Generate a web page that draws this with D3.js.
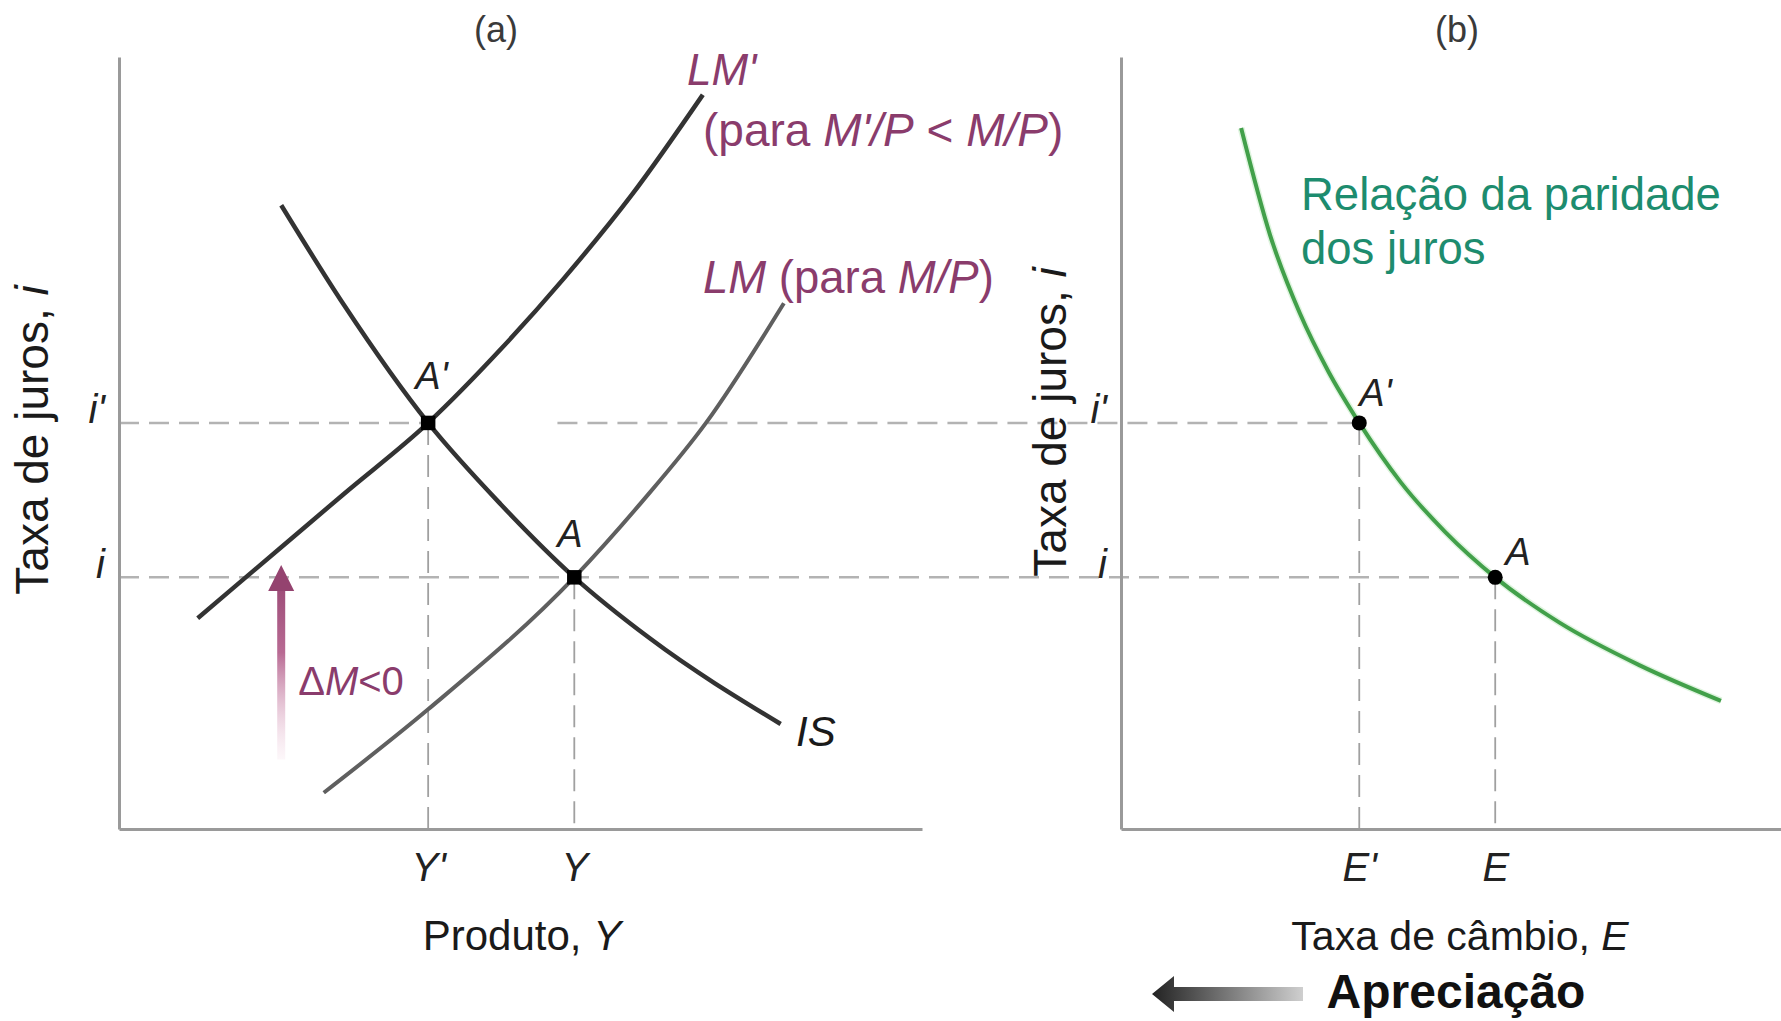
<!DOCTYPE html>
<html><head><meta charset="utf-8">
<script src="https://cdn.jsdelivr.net/npm/d3@7"></script>
<style>
html,body{margin:0;padding:0;background:#fff;}
svg{display:block;font-family:"Liberation Sans",Arial,Helvetica,sans-serif;}
</style>
</head><body>
<svg id="chart" width="1781" height="1021"></svg>
<script>
// ---------- data (abstract units 0..10) ----------
const panelTitles = ["(a)", "(b)"];
const interestTicks = [5.26, 3.26];          // i', i
const interestTickLabels = ["i'", "i"];
const outputTicks = [3.85, 5.67];            // Y', Y
const outputTickLabels = ["Y'", "Y"];
const exchangeTicks = [3.61, 5.67];          // E', E
const exchangeTickLabels = ["E'", "E"];
const pointLabels = ["A'", "A"];

const lmPrimeX = [0.98, 2.02, 2.80, 3.85, 4.75, 5.53, 6.39, 7.27];
const lmPrimeY = [2.73, 3.65, 4.34, 5.26, 6.21, 7.12, 8.22, 9.51];
const isX = [2.02, 2.80, 3.85, 4.75, 5.67, 6.61, 8.24];
const isY = [8.08, 6.79, 5.26, 4.21, 3.26, 2.47, 1.36];
const lmX = [2.55, 3.85, 5.67, 6.53, 7.31, 8.28];
const lmY = [0.47, 1.55, 3.26, 4.26, 5.26, 6.81];
const uipX = [1.82, 2.26, 2.71, 3.14, 3.61, 4.24, 4.91, 5.67, 6.65, 7.86, 9.09];
const uipY = [9.08, 7.69, 6.68, 5.93, 5.26, 4.49, 3.85, 3.26, 2.67, 2.12, 1.66];
const iPrimeGuideResume = 5.46;   // where the i' guide resumes right of A'
const deltaMArrow = [0.90, 3.42];  // ΔM<0 arrow from/to (interest units)
const deltaMArrowX = 2.02;

// ---------- setup ----------
const svg = d3.select("#chart");
const FONT = '"Liberation Sans",Arial,Helvetica,sans-serif';
const MAUVE = "#8a3c6c", TEAL = "#1d8c6e", GREEN = "#42a04a";

const xL = d3.scaleLinear().domain([0, 10]).range([119, 922]);
const xR = d3.scaleLinear().domain([0, 10]).range([1121, 1781]);
const y = d3.scaleLinear().domain([0, 10]).range([829, 57]);

const defs = svg.append("defs");
const gA = defs.append("linearGradient").attr("id", "dm").attr("gradientUnits", "userSpaceOnUse")
  .attr("x1", 0).attr("x2", 0).attr("y1", y(deltaMArrow[0])).attr("y2", y(deltaMArrow[1]));
gA.append("stop").attr("offset", 0).attr("stop-color", "#f3d6e4").attr("stop-opacity", 0.2);
gA.append("stop").attr("offset", 0.55).attr("stop-color", "#b86a93");
gA.append("stop").attr("offset", 1).attr("stop-color", "#94436f");
const gB = defs.append("linearGradient").attr("id", "ap").attr("gradientUnits", "userSpaceOnUse")
  .attr("x1", 1152).attr("x2", 1303).attr("y1", 0).attr("y2", 0);
gB.append("stop").attr("offset", 0).attr("stop-color", "#222");
gB.append("stop").attr("offset", 1).attr("stop-color", "#cfcfcf");

// ---------- guides (dashed) ----------
const guides = svg.append("g").attr("fill", "none");
const hGuide = (x1, x2, yy) => guides.append("line")
  .attr("x1", x1).attr("x2", x2).attr("y1", y(yy)).attr("y2", y(yy))
  .attr("stroke", "#b3b3b3").attr("stroke-width", 2.5).attr("stroke-dasharray", "20,10");
const vGuide = (xx, y1) => guides.append("line")
  .attr("x1", xx).attr("x2", xx).attr("y1", y(y1)).attr("y2", y(0))
  .attr("stroke", "#a0a0a0").attr("stroke-width", 1.8).attr("stroke-dasharray", "22,10");

hGuide(xL(0), xL(outputTicks[0]), interestTicks[0]);
hGuide(xL(iPrimeGuideResume), xR(exchangeTicks[0]), interestTicks[0]);
hGuide(xL(0), xR(exchangeTicks[1]), interestTicks[1]);
vGuide(xL(outputTicks[0]), interestTicks[0]);
vGuide(xL(outputTicks[1]), interestTicks[1]);
vGuide(xR(exchangeTicks[0]), interestTicks[0]);
vGuide(xR(exchangeTicks[1]), interestTicks[1]);

// ---------- axes ----------
function styleAxis(g) {
  g.select(".domain").attr("stroke", "#9a9a9a").attr("stroke-width", 3);
  g.selectAll("text").attr("font-family", FONT).attr("font-style", "italic")
    .attr("font-size", 40).attr("fill", "#222");
}
svg.append("g").attr("transform", `translate(0,${y(0)})`)
  .call(d3.axisBottom(xL).tickValues(outputTicks).tickSize(0).tickSizeOuter(0).tickPadding(52)
    .tickFormat((d, i) => outputTickLabels[i]))
  .call(styleAxis);
svg.append("g").attr("transform", `translate(${xL(0)},0)`)
  .call(d3.axisLeft(y).tickValues(interestTicks).tickSize(0).tickSizeOuter(0).tickPadding(14)
    .tickFormat((d, i) => interestTickLabels[i]))
  .call(styleAxis);
svg.append("g").attr("transform", `translate(0,${y(0)})`)
  .call(d3.axisBottom(xR).tickValues(exchangeTicks).tickSize(0).tickSizeOuter(0).tickPadding(52)
    .tickFormat((d, i) => exchangeTickLabels[i]))
  .call(styleAxis);
svg.append("g").attr("transform", `translate(${xR(0)},0)`)
  .call(d3.axisLeft(y).tickValues(interestTicks).tickSize(0).tickSizeOuter(0).tickPadding(14)
    .tickFormat((d, i) => interestTickLabels[i]))
  .call(styleAxis);
svg.selectAll(".tick text").attr("dy", null);

// ---------- curves ----------
const zip = (a, b) => a.map((v, i) => [v, b[i]]);
const lineL = d3.line().x(d => xL(d[0])).y(d => y(d[1])).curve(d3.curveMonotoneX);
const lineR = d3.line().x(d => xR(d[0])).y(d => y(d[1])).curve(d3.curveMonotoneX);

svg.append("path").attr("d", lineR(zip(uipX, uipY))).attr("fill", "none")
  .attr("stroke", "#c9ecc9").attr("stroke-width", 7).attr("opacity", 0.6);
svg.append("path").attr("d", lineR(zip(uipX, uipY))).attr("fill", "none")
  .attr("stroke", GREEN).attr("stroke-width", 4);
svg.append("path").attr("d", lineL(zip(lmX, lmY))).attr("fill", "none")
  .attr("stroke", "#5f5f5f").attr("stroke-width", 4);
svg.append("path").attr("d", lineL(zip(lmPrimeX, lmPrimeY))).attr("fill", "none")
  .attr("stroke", "#333").attr("stroke-width", 4.5);
svg.append("path").attr("d", lineL(zip(isX, isY))).attr("fill", "none")
  .attr("stroke", "#333").attr("stroke-width", 4.5);

// ---------- points ----------
const ptsL = outputTicks.map((v, i) => ({x: xL(v), y: y(interestTicks[i]), lab: pointLabels[i]}));
const ptsR = exchangeTicks.map((v, i) => ({x: xR(v), y: y(interestTicks[i]), lab: pointLabels[i]}));
svg.selectAll(".ptL").data(ptsL).join("path").attr("class", "ptL")
  .attr("d", d3.symbol(d3.symbolSquare, 210)).attr("transform", d => `translate(${d.x},${d.y})`)
  .attr("fill", "#000");
svg.selectAll(".ptR").data(ptsR).join("circle").attr("class", "ptR")
  .attr("cx", d => d.x).attr("cy", d => d.y).attr("r", 7.5).attr("fill", "#000");

const ptText = (x, yy, t) => svg.append("text").attr("x", x).attr("y", yy).text(t)
  .attr("font-family", FONT).attr("font-style", "italic").attr("font-size", 38).attr("fill", "#222");
ptText(ptsL[0].x - 13, ptsL[0].y - 34, pointLabels[0]);
ptText(ptsL[1].x - 17, ptsL[1].y - 30, pointLabels[1]);
ptText(ptsR[0].x + 0, ptsR[0].y - 17, pointLabels[0]);
ptText(ptsR[1].x + 10, ptsR[1].y - 12, pointLabels[1]);

// ---------- ΔM arrow ----------
const ax = xL(deltaMArrowX);
svg.append("rect").attr("x", ax - 4).attr("width", 8)
  .attr("y", y(deltaMArrow[1]) + 20).attr("height", y(deltaMArrow[0]) - y(deltaMArrow[1]) - 20)
  .attr("fill", "url(#dm)");
svg.append("path").attr("d", d3.line()([[ax - 13, y(deltaMArrow[1]) + 26], [ax, y(deltaMArrow[1])], [ax + 13, y(deltaMArrow[1]) + 26]]) + "Z")
  .attr("fill", "#94436f");
svg.append("text").attr("x", ax + 17).attr("y", 695).attr("font-family", FONT)
  .attr("font-size", 40).attr("fill", MAUVE)
  .call(t => { t.append("tspan").text("Δ"); t.append("tspan").attr("font-style", "italic").text("M");
               t.append("tspan").text("<0"); });

// ---------- curve labels ----------
const lab = (x, yy, parts, color, size) => {
  const t = svg.append("text").attr("x", x).attr("y", yy).attr("font-family", FONT)
    .attr("font-size", size).attr("fill", color);
  parts.forEach(p => t.append("tspan").attr("font-style", p[1] ? "italic" : "normal").text(p[0]));
  return t;
};
lab(687, 85, [["LM'", 1]], MAUVE, 44);
lab(703, 146, [["(para ", 0], ["M'/P", 1], [" < ", 0], ["M/P", 1], [")", 0]], MAUVE, 46);
lab(703, 293, [["LM", 1], [" (para ", 0], ["M/P", 1], [")", 0]], MAUVE, 45.5);
lab(796, 746, [["IS", 1]], "#1a1a1a", 42);
lab(1301, 210, [["Relação da paridade", 0]], TEAL, 45.5);
lab(1301, 264, [["dos juros", 0]], TEAL, 45.5);

// ---------- titles ----------
svg.selectAll(".ptitle").data(panelTitles).join("text").attr("class", "ptitle")
  .attr("x", (d, i) => i === 0 ? 496 : 1457).attr("y", 42).attr("text-anchor", "middle")
  .attr("font-family", FONT).attr("font-size", 36).attr("fill", "#3a3a3a").text(d => d);

lab(522, 950, [["Produto, ", 0], ["Y", 1]], "#1a1a1a", 42).attr("text-anchor", "middle");
lab(1460, 950, [["Taxa de câmbio, ", 0], ["E", 1]], "#1a1a1a", 41).attr("text-anchor", "middle");
lab(0, 0, [["Taxa de juros, ", 0], ["i", 1]], "#1a1a1a", 46)
  .attr("text-anchor", "middle").attr("transform", "translate(48,440) rotate(-90)");
lab(0, 0, [["Taxa de juros, ", 0], ["i", 1]], "#1a1a1a", 46)
  .attr("text-anchor", "middle").attr("transform", "translate(1066,422) rotate(-90)");

// ---------- Apreciação ----------
svg.append("path").attr("d", "M1152,994 L1174,976 L1174,987 L1303,987 L1303,1001 L1174,1001 L1174,1012 Z")
  .attr("fill", "url(#ap)");
svg.append("text").attr("x", 1456).attr("y", 1008).attr("text-anchor", "middle")
  .attr("font-family", FONT).attr("font-weight", "bold").attr("font-size", 48).attr("fill", "#111")
  .text("Apreciação");
</script>
</body></html>
